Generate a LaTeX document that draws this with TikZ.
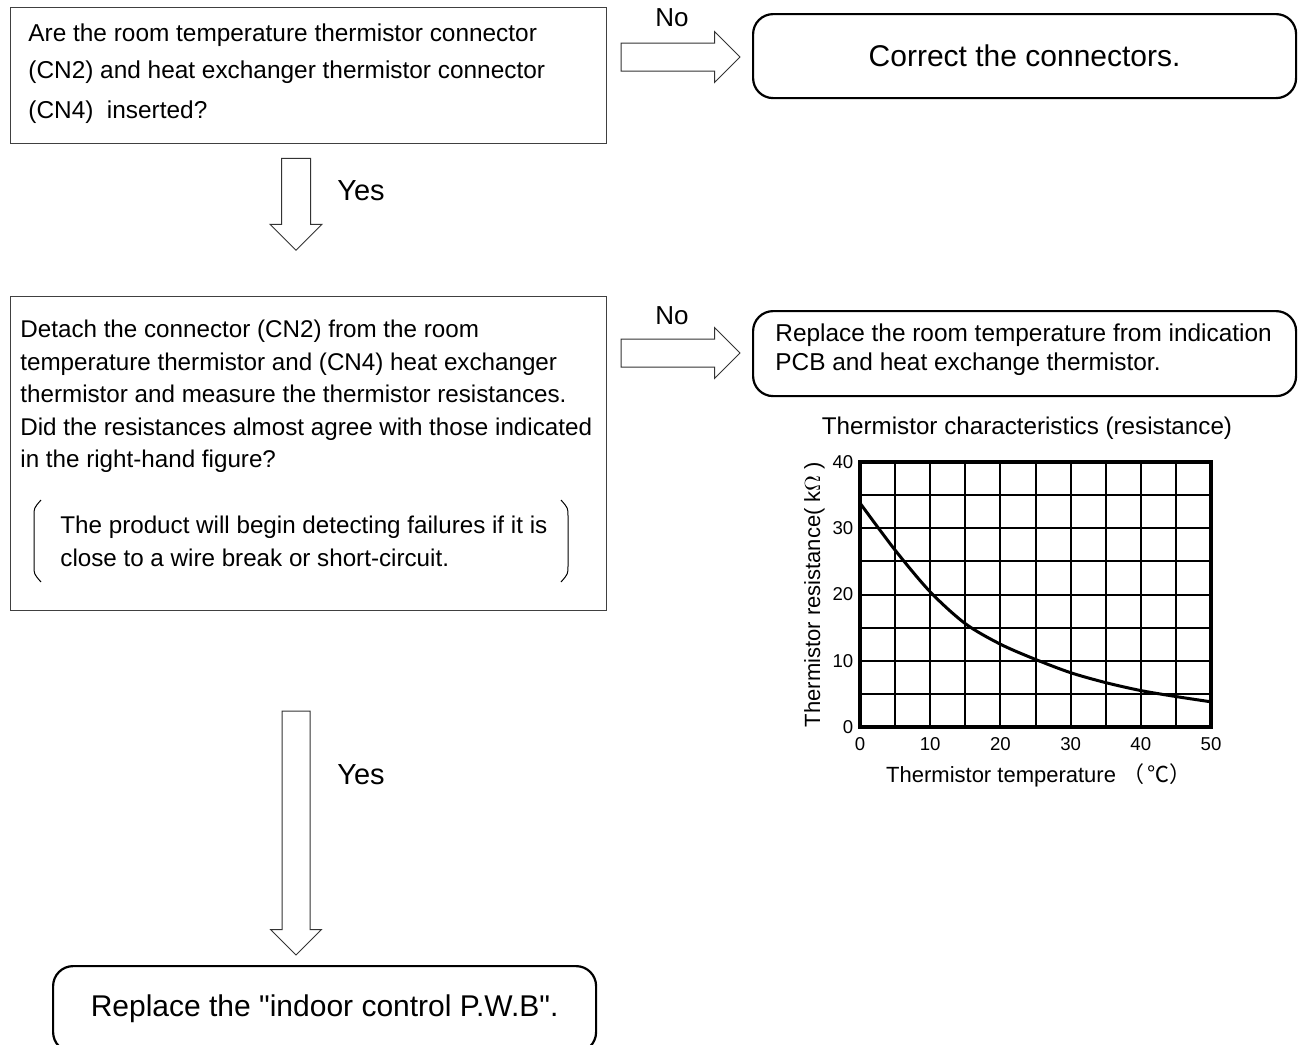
\documentclass[tikz,border=0pt]{standalone}
\usepackage{fontspec}
\setmainfont{Liberation Sans}
\newfontfamily\cjkfont{Noto Sans CJK SC}
\usepackage{tikz}
\usetikzlibrary{positioning, shapes.arrows}

\begin{document}
\begin{tikzpicture}[
        x=0.5pt, y=-0.5pt,
        qbox/.style={draw=black!75, line width=0.6pt},
        abox/.style={draw, line width=1.1pt, rounded corners=10pt, inner sep=0pt},
        fatarr/.style={single arrow, draw=black!80, line width=0.5pt, inner sep=6.75pt,
            single arrow head extend=5.75pt, single arrow tip angle=90,
            minimum width=25pt, minimum height=#1},
        fatarr/.default=59.5pt,
        txt/.style={inner sep=0pt, align=left, font=\fontsize{12.1}{16.25}\selectfont},
        lbl/.style={inner sep=0pt, font=\fontsize{13}{15}\selectfont},
        tick/.style={inner sep=0pt, font=\fontsize{9.3}{11}\selectfont},
        gridln/.style={line width=1pt},
    ]
    \useasboundingbox (0,0) rectangle (1298,1045);
    \clip (0,0) rectangle (1298,1045);

    % ---- first check ----
    \node[qbox, anchor=north west, minimum width=298pt, minimum height=68pt] (q1) at (10,7) {};
    \node[txt, anchor=north west, font=\fontsize{12.2}{18.5}\selectfont] (q1-txt) at (28,23)
        {Are the room temperature thermistor connector\\
         (CN2) and heat exchanger thermistor connector\\[1.5pt]
         (CN4)\ \ inserted?};

    \node[fatarr] (no1) at (673.5,57) {};
    \node[lbl] (no1-lbl) at (672,18) {No};
    \node[abox, anchor=north west, minimum width=271.5pt, minimum height=42pt,
          font=\fontsize{15}{17}\selectfont] (fix1) at (752,13) {Correct the connectors.};

    \node[fatarr=46pt, shape border rotate=270, inner sep=7pt] (yes1) at (296,197) {};
    \node[lbl, font=\fontsize{14.5}{17}\selectfont] (yes1-lbl) at (361,191) {Yes};

    % ---- second check ----
    \node[qbox, anchor=north west, minimum width=298pt, minimum height=157pt] (q2) at (10,296) {};
    \node[txt, anchor=north west] (q2-txt) at (20,320)
        {Detach the connector (CN2) from the room\\
         temperature thermistor and (CN4) heat exchanger\\
         thermistor and measure the thermistor resistances.\\
         Did the resistances almost agree with those indicated\\
         in the right-hand figure?};
    \node[txt, anchor=north west] (note) at (60,516)
        {The product will begin detecting failures if it is\\
         close to a wire break or short-circuit.};
    \draw[line width=0.5pt] (41,500) .. controls (34,508) .. (34,516) -- (34,566) .. controls (34,574) .. (41,582);
    \draw[line width=0.5pt] (561,500) .. controls (568,508) .. (568,516) -- (568,566) .. controls (568,574) .. (561,582);

    \node[fatarr] (no2) at (673.5,353) {};
    \node[lbl] (no2-lbl) at (672,316) {No};
    \node[abox, anchor=north west, minimum width=271.5pt, minimum height=42.5pt] (fix2) at (752,310) {};
    \node[txt, anchor=north west, font=\fontsize{12.2}{14.5}\selectfont] (fix2-txt) at (775,323)
        {Replace the room temperature from indication\\
         PCB and heat exchange thermistor.};

    \node[fatarr=122pt, shape border rotate=270, inner sep=6.75pt] (yes2) at (296,826) {};
    \node[lbl, font=\fontsize{14.5}{17}\selectfont] (yes2-lbl) at (361,775) {Yes};

    \node[abox, anchor=north west, minimum width=271.5pt, minimum height=43pt,
          font=\fontsize{15}{17}\selectfont] (fix3) at (52,965)
        {Replace the \textquotedbl indoor control P.W.B\textquotedbl.};

    % ---- thermistor chart ----
    \node[txt] (chart-title) at (1027,428) {Thermistor characteristics (resistance)};
    \begin{scope}[shift={(860,727)}, x=3.51pt, y=3.3125pt]
        \draw[gridln] (0,0) grid[xstep=5, ystep=5] (50,40);
        \draw[line width=1.8pt] (0,0) rectangle (50,40);
        \draw[line width=1.5pt] plot[smooth] coordinates {(0,33.8) (5,26.7) (10,20.4) (15,15.6) (20,12.5)
            (25,10.2) (30,8.2) (35,6.7) (40,5.5) (45,4.6) (50,3.8)};
        \foreach \v in {0,10,20,30,40}
            \node[tick, anchor=east] (ytick\v) at (-0.9,\v) {\v};
        \foreach \v in {0,10,20,30,40,50}
            \node[tick] (xtick\v) at (\v,-2.6) {\v};
        \node[txt, font=\fontsize{11}{13}\selectfont, rotate=90] (ylabel) at (-6.5,20) {Thermistor resistance( k$\Omega$ )};
        \node[txt, font=\fontsize{11}{13}\selectfont] (xlabel) at (25.5,-7.3) {Thermistor temperature {\cjkfont（\,℃）}};
    \end{scope}
\end{tikzpicture}
\end{document}
